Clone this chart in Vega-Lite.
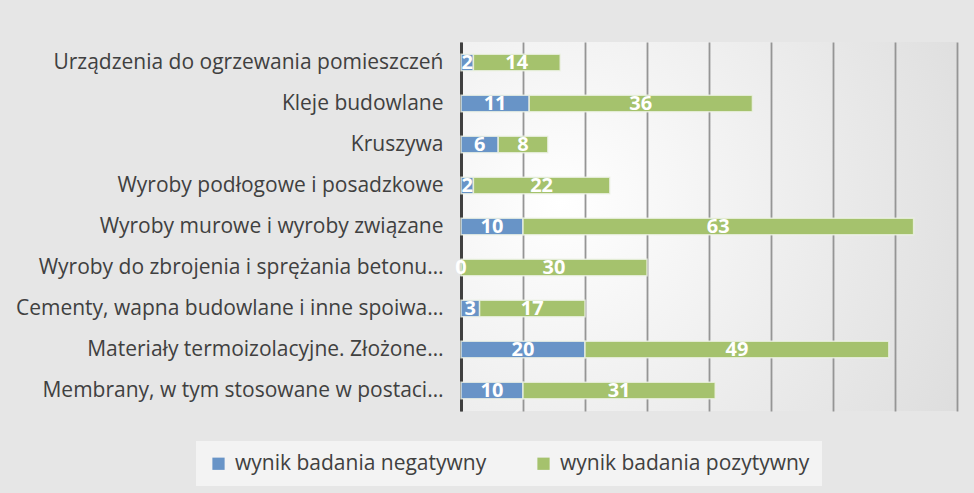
{
  "$schema": "https://vega.github.io/schema/vega-lite/v6.json",
  "width": 496,
  "height": 369,
  "autosize": "none",
  "padding": {"left": 461, "top": 42, "right": 17, "bottom": 82},
  "background": "#e6e6e6",
  "config": {
    "font": "Open Sans",
    "view": {"stroke": null, "fill": {"gradient": "radial", "x1": 0.2, "y1": 0.45, "r1": 0, "x2": 0.2, "y2": 0.45, "r2": 0.95, "stops": [{"offset": 0, "color": "#ffffff"}, {"offset": 1, "color": "#dcdcdc"}]}}
  },
  "data": {
    "values": [
      {"kategoria": "Urządzenia do ogrzewania pomieszczeń", "wynik": "wynik badania negatywny", "liczba": 2, "ord": 1},
      {"kategoria": "Urządzenia do ogrzewania pomieszczeń", "wynik": "wynik badania pozytywny", "liczba": 14, "ord": 2},
      {"kategoria": "Kleje budowlane", "wynik": "wynik badania negatywny", "liczba": 11, "ord": 1},
      {"kategoria": "Kleje budowlane", "wynik": "wynik badania pozytywny", "liczba": 36, "ord": 2},
      {"kategoria": "Kruszywa", "wynik": "wynik badania negatywny", "liczba": 6, "ord": 1},
      {"kategoria": "Kruszywa", "wynik": "wynik badania pozytywny", "liczba": 8, "ord": 2},
      {"kategoria": "Wyroby podłogowe i posadzkowe", "wynik": "wynik badania negatywny", "liczba": 2, "ord": 1},
      {"kategoria": "Wyroby podłogowe i posadzkowe", "wynik": "wynik badania pozytywny", "liczba": 22, "ord": 2},
      {"kategoria": "Wyroby murowe i wyroby związane", "wynik": "wynik badania negatywny", "liczba": 10, "ord": 1},
      {"kategoria": "Wyroby murowe i wyroby związane", "wynik": "wynik badania pozytywny", "liczba": 63, "ord": 2},
      {"kategoria": "Wyroby do zbrojenia i sprężania betonu…", "wynik": "wynik badania negatywny", "liczba": 0, "ord": 1},
      {"kategoria": "Wyroby do zbrojenia i sprężania betonu…", "wynik": "wynik badania pozytywny", "liczba": 30, "ord": 2},
      {"kategoria": "Cementy, wapna budowlane i inne spoiwa…", "wynik": "wynik badania negatywny", "liczba": 3, "ord": 1},
      {"kategoria": "Cementy, wapna budowlane i inne spoiwa…", "wynik": "wynik badania pozytywny", "liczba": 17, "ord": 2},
      {"kategoria": "Materiały termoizolacyjne. Złożone…", "wynik": "wynik badania negatywny", "liczba": 20, "ord": 1},
      {"kategoria": "Materiały termoizolacyjne. Złożone…", "wynik": "wynik badania pozytywny", "liczba": 49, "ord": 2},
      {"kategoria": "Membrany, w tym stosowane w postaci…", "wynik": "wynik badania negatywny", "liczba": 10, "ord": 1},
      {"kategoria": "Membrany, w tym stosowane w postaci…", "wynik": "wynik badania pozytywny", "liczba": 31, "ord": 2}
    ]
  },
  "encoding": {
    "y": {
      "field": "kategoria", "type": "nominal", "sort": null,
      "scale": {"paddingInner": 0.6, "paddingOuter": 0.3},
      "axis": {"title": null, "ticks": false, "labelFontSize": 21, "labelColor": "#404040", "labelPadding": 18, "labelLimit": 500, "domainColor": "#404040", "domainWidth": 3, "grid": false}
    },
    "x": {
      "field": "liczba", "type": "quantitative", "stack": "zero",
      "scale": {"domain": [0, 80]},
      "axis": {"title": null, "labels": false, "ticks": false, "domain": false, "tickCount": 8, "grid": true, "gridColor": "#959595", "gridWidth": 1.8}
    },
    "order": {"field": "ord", "type": "quantitative"}
  },
  "layer": [
    {
      "mark": {"type": "bar", "stroke": "#eef3e6", "strokeWidth": 1.5, "strokeOpacity": 0.8},
      "encoding": {
        "color": {
          "field": "wynik", "type": "nominal",
          "scale": {"domain": ["wynik badania negatywny", "wynik badania pozytywny"], "range": ["#6894c7", "#a5c26d"]},
          "legend": {"title": null, "orient": "none", "legendX": -265, "legendY": 399, "direction": "horizontal", "symbolType": "square", "symbolSize": 150, "symbolStrokeWidth": 0, "labelFontSize": 21, "labelColor": "#404040", "labelOffset": 6, "columnPadding": 46, "fillColor": "#f3f3f3", "padding": 12, "labelLimit": 400}
        }
      }
    },
    {
      "mark": {"type": "text", "color": "white", "fontSize": 20, "fontWeight": "bold"},
      "encoding": {
        "x": {"field": "liczba", "type": "quantitative", "stack": "zero", "bandPosition": 0.5},
        "text": {"field": "liczba", "type": "quantitative"}
      }
    }
  ]
}
